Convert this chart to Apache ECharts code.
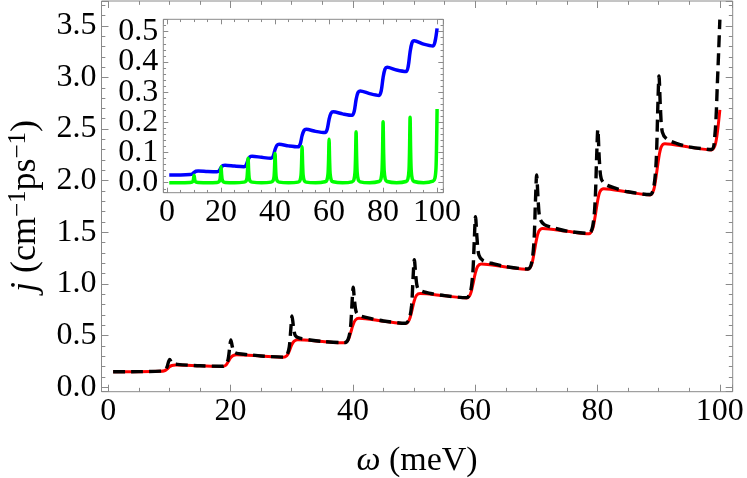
<!DOCTYPE html>
<html>
<head>
<meta charset="utf-8">
<script src="https://cdn.jsdelivr.net/npm/echarts@6/dist/echarts.min.js"></script>
<style>
html,body{margin:0;padding:0;background:#fff;}
#main{width:747px;height:478px;}
</style>
</head>
<body>
<div id="main"></div>
<script>
// main panel: red solid curve
var redX = [0.8, 5, 8.5,
	9.2, 9.6, 10, 10.4, 11, 15, 18.6,
	19.2, 19.6, 20, 20.4, 21, 25, 28.6,
	29.2, 29.6, 30, 30.4, 31, 35, 38.6,
	39.2, 39.6, 40, 40.4, 41, 45, 48.6,
	49.2, 49.6, 50, 50.4, 51, 55, 58.6,
	59.2, 59.6, 60, 60.4, 61, 65, 68.6,
	69.2, 69.6, 70, 70.4, 71, 75, 78.6,
	79.2, 79.6, 80, 80.4, 81, 85, 88.6,
	89.2, 89.6, 90, 90.4, 91, 95, 98.6,
	99.2, 99.6, 100];
var redY = [0.150, 0.151, 0.155,
	0.160, 0.175, 0.197, 0.211, 0.216, 0.208, 0.202,
	0.212, 0.245, 0.285, 0.307, 0.315, 0.302, 0.290,
	0.305, 0.350, 0.410, 0.446, 0.460, 0.443, 0.430,
	0.455, 0.520, 0.600, 0.650, 0.668, 0.640, 0.617,
	0.650, 0.730, 0.830, 0.890, 0.908, 0.885, 0.865,
	0.900, 0.990, 1.100, 1.170, 1.193, 1.165, 1.142,
	1.185, 1.290, 1.425, 1.510, 1.538, 1.510, 1.486,
	1.535, 1.650, 1.800, 1.895, 1.923, 1.890, 1.862,
	1.915, 2.050, 2.215, 2.325, 2.358, 2.325, 2.298,
	2.340, 2.470, 2.685];

// main panel: black dashed curve
var blackX = [0.8, 5, 8.5,
	9.2, 9.6, 9.85, 10.05, 10.3, 10.6, 11.3, 13, 15, 18.6,
	19.2, 19.6, 19.85, 20.05, 20.3, 20.6, 21.3, 23, 25, 28.6,
	29.2, 29.6, 29.85, 30.05, 30.3, 30.6, 31.3, 33, 35, 38.6,
	39.2, 39.6, 39.85, 40.05, 40.3, 40.6, 41.3, 43, 45, 48.6,
	49.2, 49.6, 49.85, 50.05, 50.3, 50.6, 51.3, 53, 55, 58.6,
	59.2, 59.6, 59.85, 60.05, 60.3, 60.6, 61.3, 63, 65, 68.6,
	69.2, 69.6, 69.85, 70.05, 70.3, 70.6, 71.3, 73, 75, 78.6,
	79.2, 79.6, 79.85, 80.05, 80.3, 80.6, 81.3, 83, 85, 88.6,
	89.2, 89.6, 89.85, 90.05, 90.3, 90.6, 91.3, 93, 95, 98.6,
	99.2, 99.6, 100];
var blackY = [0.150, 0.151, 0.156,
	0.165, 0.195, 0.245, 0.270, 0.245, 0.228, 0.222, 0.214, 0.208, 0.203,
	0.215, 0.270, 0.380, 0.458, 0.390, 0.340, 0.325, 0.315, 0.303, 0.292,
	0.310, 0.390, 0.560, 0.690, 0.580, 0.500, 0.475, 0.458, 0.444, 0.432,
	0.460, 0.570, 0.800, 0.968, 0.820, 0.720, 0.690, 0.665, 0.642, 0.620,
	0.660, 0.790, 1.070, 1.235, 1.070, 0.960, 0.930, 0.905, 0.887, 0.868,
	0.915, 1.100, 1.420, 1.652, 1.440, 1.280, 1.225, 1.195, 1.168, 1.145,
	1.200, 1.400, 1.800, 2.055, 1.800, 1.630, 1.575, 1.540, 1.512, 1.490,
	1.555, 1.790, 2.220, 2.497, 2.200, 2.020, 1.965, 1.925, 1.893, 1.866,
	1.940, 2.200, 2.700, 3.015, 2.680, 2.470, 2.405, 2.360, 2.328, 2.302,
	2.450, 2.950, 3.560];

// inset: blue staircase
var blueX = [0.8, 5, 8.5,
	9.3, 10, 10.7, 11.5, 15, 18.5,
	19.3, 20, 20.7, 21.5, 25, 28.5,
	29.3, 30, 30.7, 31.5, 35, 38.5,
	39.3, 40, 40.7, 41.5, 45, 48.5,
	49.3, 50, 50.7, 51.5, 55, 58.5,
	59.3, 60, 60.7, 61.5, 65, 68.5,
	69.3, 70, 70.7, 71.5, 75, 78.5,
	79.3, 80, 80.7, 81.5, 85, 88.5,
	89.3, 90, 90.7, 91.5, 95, 98.5,
	99.3, 100];
var blueY = [0.026, 0.026, 0.027,
	0.029, 0.034, 0.038, 0.039, 0.037, 0.036,
	0.040, 0.050, 0.057, 0.058, 0.055, 0.053,
	0.059, 0.076, 0.086, 0.088, 0.084, 0.081,
	0.088, 0.110, 0.124, 0.127, 0.122, 0.119,
	0.128, 0.156, 0.173, 0.177, 0.170, 0.166,
	0.177, 0.210, 0.230, 0.235, 0.228, 0.223,
	0.236, 0.275, 0.299, 0.304, 0.295, 0.289,
	0.304, 0.348, 0.376, 0.382, 0.373, 0.368,
	0.385, 0.433, 0.463, 0.470, 0.459, 0.453,
	0.470, 0.511];

// inset: green spikes
var greenX = [0.8, 5,
	8.5, 9.2, 9.6, 9.8, 10, 10.2, 10.4, 10.8, 11.5, 15,
	18.5, 19.2, 19.6, 19.8, 20, 20.2, 20.4, 20.8, 21.5, 25,
	28.5, 29.2, 29.6, 29.8, 30, 30.2, 30.4, 30.8, 31.5, 35,
	38.5, 39.2, 39.6, 39.8, 40, 40.2, 40.4, 40.8, 41.5, 45,
	48.5, 49.2, 49.6, 49.8, 50, 50.2, 50.4, 50.8, 51.5, 55,
	58.5, 59.2, 59.6, 59.8, 60, 60.2, 60.4, 60.8, 61.5, 65,
	68.5, 69.2, 69.6, 69.8, 70, 70.2, 70.4, 70.8, 71.5, 75,
	78.5, 79.2, 79.6, 79.8, 80, 80.2, 80.4, 80.8, 81.5, 85,
	88.5, 89.2, 89.6, 89.8, 90, 90.2, 90.4, 90.8, 91.5, 95,
	98.5, 99.2, 99.6, 99.8, 100];
var greenY = [0.0, 0.0,
	0.001, 0.002, 0.005, 0.013, 0.025, 0.013, 0.005, 0.002, 0.001, 0.0,
	0.001, 0.003, 0.011, 0.027, 0.053, 0.027, 0.011, 0.003, 0.001, 0.0,
	0.002, 0.005, 0.016, 0.041, 0.081, 0.041, 0.016, 0.005, 0.002, 0.0,
	0.002, 0.006, 0.019, 0.049, 0.097, 0.049, 0.019, 0.006, 0.002, 0.0,
	0.002, 0.007, 0.024, 0.060, 0.119, 0.060, 0.024, 0.007, 0.002, 0.0,
	0.003, 0.009, 0.029, 0.072, 0.144, 0.072, 0.029, 0.009, 0.003, 0.0,
	0.003, 0.010, 0.034, 0.085, 0.169, 0.085, 0.034, 0.010, 0.003, 0.0,
	0.004, 0.012, 0.040, 0.101, 0.202, 0.101, 0.040, 0.012, 0.004, 0.0,
	0.004, 0.013, 0.043, 0.109, 0.217, 0.109, 0.043, 0.013, 0.004, 0.0,
	0.005, 0.015, 0.049, 0.122, 0.244];

var FONT = 'Liberation Serif';
var GRAY = '#8a8a8a';

function pairs(xs, ys){
	return xs.map(function(x, i){ return [x, ys[i]]; });
}

//value axis with inward ticks, optional labels
function axis(opt){
	return {
		type: 'value',
		gridIndex: opt.grid,
		position: opt.pos,
		min: opt.min,
		max: opt.max,
		minInterval: opt.step,
		maxInterval: opt.step,
		z: opt.z || 0,
		axisLine: { show: false, onZero: false },
		axisTick: { show: true, inside: true, length: opt.tick, lineStyle: { color: GRAY, width: 1 } },
		minorTick: { show: true, splitNumber: opt.minor, length: opt.tick * 0.55, lineStyle: { color: GRAY, width: 1 } },
		splitLine: { show: false },
		axisLabel: {
			show: !!opt.label,
			showMinLabel: false,
			showMaxLabel: false,
			margin: opt.margin,
			color: '#000',
			fontFamily: FONT,
			fontSize: 32,
			formatter: function(v){ return opt.digits ? v.toFixed(opt.digits) : String(Math.round(v)); }
		}
	};
}

var chart = echarts.init(document.getElementById('main'), null, { renderer: 'canvas' });

var option = {
	animation: false,
	backgroundColor: '#fff',
	grid: [
		{ left: 101.5, top: 1, right: 14.3, bottom: 86.3, show: true, borderColor: GRAY, borderWidth: 1, backgroundColor: '#fff' },
		{ left: 163.3, top: 19.3, width: 280, height: 173.4, show: true, borderColor: GRAY, borderWidth: 1, backgroundColor: '#fff', z: 3 }
	],
	xAxis: [
		axis({ grid: 0, pos: 'bottom', min: -1.1, max: 102.1, step: 20, minor: 4, tick: 7, label: true, margin: 4 }),
		axis({ grid: 0, pos: 'top', min: -1.1, max: 102.1, step: 20, minor: 4, tick: 7 }),
		axis({ grid: 1, pos: 'bottom', min: -1.4, max: 102.3, step: 20, minor: 4, tick: 5, label: true, margin: 4, z: 4 }),
		axis({ grid: 1, pos: 'top', min: -1.4, max: 102.3, step: 20, minor: 4, tick: 5, z: 4 })
	],
	yAxis: [
		axis({ grid: 0, pos: 'left', min: -0.043, max: 3.74, step: 0.5, minor: 5, tick: 7, label: true, margin: 5, digits: 1 }),
		axis({ grid: 0, pos: 'right', min: -0.043, max: 3.74, step: 0.5, minor: 5, tick: 7 }),
		axis({ grid: 1, pos: 'left', min: -0.033, max: 0.541, step: 0.1, minor: 5, tick: 5, label: true, margin: 5, digits: 1, z: 4 }),
		axis({ grid: 1, pos: 'right', min: -0.033, max: 0.541, step: 0.1, minor: 5, tick: 5, z: 4 })
	],
	graphic: [
		{
			type: 'text', x: 417, y: 461, z: 10,
			style: {
				text: '{i|ω} (meV)', fill: '#000', font: '34px "Liberation Serif"',
				align: 'center', verticalAlign: 'middle',
				rich: { i: { fontStyle: 'italic', fontFamily: FONT, fontSize: 34 } }
			}
		},
		{
			type: 'text', x: 26, y: 206, rotation: Math.PI / 2, z: 10,
			style: {
				text: '{i|j} (cm{s|−1}ps{s|−1})', fill: '#000', font: '36px "Liberation Serif"',
				align: 'center', verticalAlign: 'middle',
				rich: {
					i: { fontStyle: 'italic', fontFamily: FONT, fontSize: 36, lineHeight: 40 },
					s: { fontFamily: FONT, fontSize: 25, lineHeight: 24, verticalAlign: 'top' }
				}
			}
		}
	],
	series: [
		{
			name: 'red', type: 'line', xAxisIndex: 0, yAxisIndex: 0, z: 2,
			data: pairs(redX, redY), showSymbol: false, smooth: 0.3,
			lineStyle: { color: '#ff0000', width: 3 }
		},
		{
			name: 'black', type: 'line', xAxisIndex: 0, yAxisIndex: 0, z: 2,
			data: pairs(blackX, blackY), showSymbol: false, smooth: 0.3,
			lineStyle: { color: '#000', width: 3.4, type: [12, 6] }
		},
		{
			name: 'blue', type: 'line', xAxisIndex: 2, yAxisIndex: 2, z: 5,
			data: pairs(blueX, blueY), showSymbol: false, smooth: 0.3,
			lineStyle: { color: '#0000ff', width: 3.5 }
		},
		{
			name: 'green', type: 'line', xAxisIndex: 2, yAxisIndex: 2, z: 5,
			data: pairs(greenX, greenY), showSymbol: false, smooth: 0.25,
			lineStyle: { color: '#00ff00', width: 3.5 }
		}
	]
};
chart.setOption(option);
</script>
</body>
</html>
